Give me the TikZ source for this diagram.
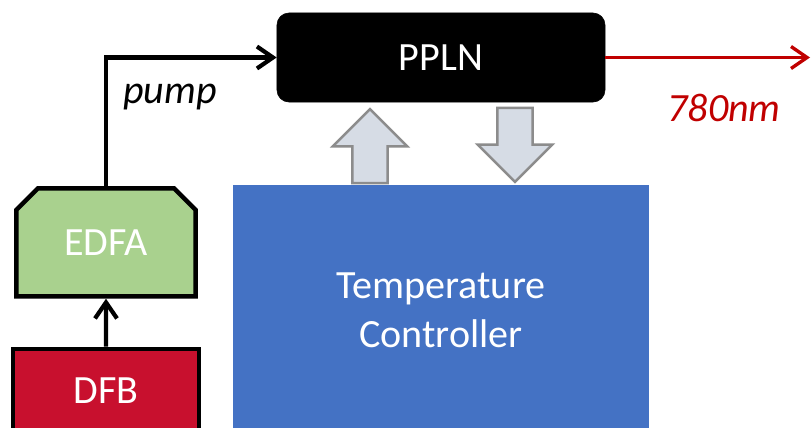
\documentclass[tikz,border=0pt]{standalone}
\usepackage{fontspec}
\setmainfont{Carlito}
\usepackage{tikz}
\usetikzlibrary{shapes,shapes.misc,shapes.arrows}
\usetikzlibrary{arrows.meta, positioning}

\definecolor{edfagreen}{HTML}{A9D18E}
\definecolor{dfbred}{HTML}{C8102E}
\definecolor{ctrlblue}{HTML}{4472C4}
\definecolor{beamred}{HTML}{C00000}
\definecolor{heatfill}{HTML}{D6DCE5}
\definecolor{heatline}{HTML}{8C8C8C}

\begin{document}
\begin{tikzpicture}[
    x=0.025cm, y=-0.025cm,
    every node/.style={align=center, font=\fontsize{28.5}{35}\selectfont},
    pplnbox/.style={rectangle, fill=black, draw=black, rounded corners=0.3cm, text=white, minimum width=8.2cm, minimum height=2.225cm},
    ampbox/.style={chamfered rectangle, chamfered rectangle corners={north west, north east}, chamfered rectangle xsep=0.42cm, draw=black, line width=3.2pt, fill=edfagreen, text=white, minimum width=4.475cm, minimum height=2.7cm},
    laserbox/.style={rectangle, draw=black, line width=3.2pt, fill=dfbred, text=white, minimum width=4.65cm, minimum height=2.1cm},
    ctrlbox/.style={rectangle, fill=ctrlblue, text=white, minimum width=10.4cm, minimum height=6.25cm},
    heat/.style={single arrow, draw=heatline, fill=heatfill, line width=1.8pt, inner sep=0.41cm, minimum height=1.85cm, single arrow head extend=0.49cm},
    arrow/.style={-{Straight Barb[length=0.4cm, width=0.55cm]}, line width=3pt},
    beam/.style={-{Straight Barb[length=0.4cm, width=0.55cm]}, line width=2.4pt, draw=beamred}
    ]
\clip (0,0) rectangle (812,428);

% Nodes
\node (ppln) [pplnbox] at (441,57.5) {PPLN};
\node (dfb) [laserbox] at (106,391) {DFB};
\node (edfa) [ampbox, above=1.2cm of dfb] {EDFA};
\node (ctrl) [ctrlbox] at (441,310) {Temperature\\Controller};

\node (heatin) [heat, shape border rotate=90] at (370,155) {};
\node (heatout) [heat, shape border rotate=270] at (515,136) {};

\coordinate (beamout) at (810,57.5);
\node (pumplabel) at (170,97) {\itshape pump};
\node (nmlabel) [text=beamred] at (724,108) {\itshape 780nm};

% Arrows
\draw[arrow] (dfb) -- (edfa);
\draw[arrow] (edfa.north) |- (ppln.west);
\draw[beam] (ppln.east) -- (beamout);

\end{tikzpicture}
\end{document}
